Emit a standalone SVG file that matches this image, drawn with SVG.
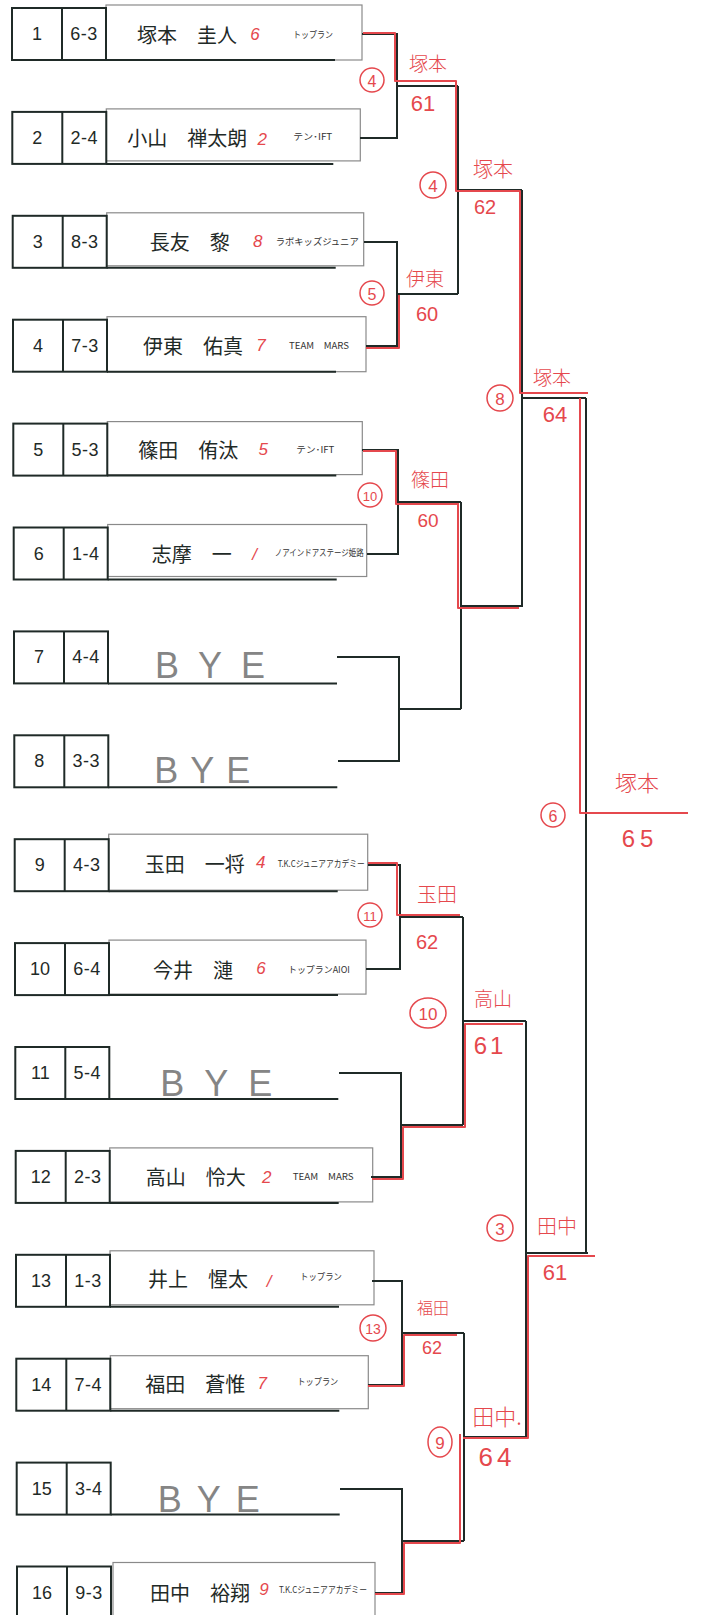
<svg xmlns="http://www.w3.org/2000/svg" width="701" height="1615" viewBox="0 0 701 1615">
<style>
.cell{fill:none;stroke:#1f2a27;stroke-width:2}
.lab{fill:#fff;stroke:#8a8a8a;stroke-width:1.2}
.bl{stroke:#1f2a27;stroke-width:2;fill:none}
.ln{stroke:#1f2a27;stroke-width:2;fill:none}
.rd{stroke:#e5484d;stroke-width:2;fill:none;stroke-linejoin:round}
.num{font-family:"Liberation Sans",Arial,sans-serif;font-size:18px;fill:#1f2a27;text-anchor:middle;dominant-baseline:central}
.sc{letter-spacing:0.5px}
.name{font-family:"Noto Sans CJK JP",sans-serif;font-size:20px;fill:#1f2a27;text-anchor:middle;dominant-baseline:central}
.club{font-family:"Noto Sans CJK JP",sans-serif;font-size:9px;fill:#333;dominant-baseline:central}
.seed{font-family:"Liberation Sans",sans-serif;font-size:17px;fill:#e5484d;font-style:italic;text-anchor:middle;dominant-baseline:central}
.bye{font-family:"Liberation Sans",sans-serif;font-size:36px;fill:#858585}
.rt{font-family:"Noto Sans CJK JP",sans-serif;font-weight:300;fill:#e5484d;text-anchor:middle;dominant-baseline:central}
.rn{font-family:"Liberation Sans",sans-serif;fill:#e5484d;text-anchor:middle;dominant-baseline:central}
.rc{fill:none;stroke:#e5484d;stroke-width:1.5}
</style>
<rect x="0" y="0" width="701" height="1615" fill="#fff"/>

<g id="p1" transform="translate(0,8)">
<rect class="lab" x="106" y="-3" width="256" height="55"/>
<rect class="cell" x="12" y="0" width="94" height="52"/><line class="bl" x1="62" y1="0" x2="62" y2="52"/><line class="bl" x1="106" y1="52" x2="335" y2="52"/>
<text class="num" x="37" y="26">1</text><text class="num sc" x="84" y="26">6-3</text>
<text class="name" x="187" y="26">塚本　圭人</text><text class="seed" x="255" y="26">6</text>
<text class="club" x="293" y="26" textLength="40" lengthAdjust="spacingAndGlyphs">トップラン</text>
</g>
<g id="p2" transform="translate(0.3,111.9)">
<rect class="lab" x="106" y="-3" width="254" height="52"/>
<rect class="cell" x="12" y="0" width="94" height="52"/><line class="bl" x1="62" y1="0" x2="62" y2="52"/><line class="bl" x1="106" y1="52" x2="333" y2="52"/>
<text class="num" x="37" y="26">2</text><text class="num sc" x="84" y="26">2-4</text>
<text class="name" x="187" y="26">小山　禅太朗</text><text class="seed" x="262" y="28">2</text>
<text class="club" x="293" y="25" textLength="39" lengthAdjust="spacingAndGlyphs">テン･IFT</text>
</g>
<g id="p3" transform="translate(0.7,215.8)">
<rect class="lab" x="106" y="-3" width="257" height="53"/>
<rect class="cell" x="12" y="0" width="94" height="52"/><line class="bl" x1="62" y1="0" x2="62" y2="52"/><line class="bl" x1="106" y1="52" x2="335" y2="52"/>
<text class="num" x="37" y="26">3</text><text class="num sc" x="84" y="26">8-3</text>
<text class="name" x="189" y="26">長友　黎</text><text class="seed" x="257" y="26">8</text>
<text class="club" x="275" y="26" textLength="83" lengthAdjust="spacingAndGlyphs">ラボキッズジュニア</text>
</g>
<g id="p4" transform="translate(1,319.7)">
<rect class="lab" x="106" y="-3" width="259" height="55"/>
<rect class="cell" x="12" y="0" width="94" height="52"/><line class="bl" x1="62" y1="0" x2="62" y2="52"/><line class="bl" x1="106" y1="52" x2="335" y2="52"/>
<text class="num" x="37" y="26">4</text><text class="num sc" x="84" y="26">7-3</text>
<text class="name" x="192" y="26">伊東　佑真</text><text class="seed" x="260" y="26">7</text>
<text class="club" x="288" y="26" textLength="60" lengthAdjust="spacingAndGlyphs">TEAM　MARS</text>
</g>
<g id="p5" transform="translate(1.3,423.6)">
<rect class="lab" x="106" y="-2" width="255" height="53"/>
<rect class="cell" x="12" y="0" width="94" height="52"/><line class="bl" x1="62" y1="0" x2="62" y2="52"/><line class="bl" x1="106" y1="52" x2="335" y2="52"/>
<text class="num" x="37" y="26">5</text><text class="num sc" x="84" y="26">5-3</text>
<text class="name" x="187" y="26">篠田　侑汰</text><text class="seed" x="262" y="26">5</text>
<text class="club" x="295" y="26" textLength="38" lengthAdjust="spacingAndGlyphs">テン･IFT</text>
</g>
<g id="p6" transform="translate(1.7,527.5)">
<rect class="lab" x="106" y="-3" width="259" height="52"/>
<rect class="cell" x="12" y="0" width="94" height="52"/><line class="bl" x1="62" y1="0" x2="62" y2="52"/><line class="bl" x1="106" y1="52" x2="335" y2="52"/>
<text class="num" x="37" y="26">6</text><text class="num sc" x="84" y="26">1-4</text>
<text class="name" x="190" y="26">志摩　一</text><text class="seed" x="253" y="27">/</text>
<text class="club" x="273" y="25" textLength="89" lengthAdjust="spacingAndGlyphs">ノアインドアステージ姫路</text>
</g>
<g id="p7" transform="translate(2,631.4)">
<rect class="cell" x="12" y="0" width="94" height="52"/><line class="bl" x1="62" y1="0" x2="62" y2="52"/><line class="bl" x1="106" y1="52" x2="335" y2="52"/>
<text class="num" x="37" y="26">7</text><text class="num sc" x="84" y="26">4-4</text>
<text class="bye" x="153" y="47" textLength="110" lengthAdjust="spacing">BYE</text>
</g>
<g id="p8" transform="translate(2.3,735.3)">
<rect class="cell" x="12" y="0" width="94" height="52"/><line class="bl" x1="62" y1="0" x2="62" y2="52"/><line class="bl" x1="106" y1="52" x2="335" y2="52"/>
<text class="num" x="37" y="26">8</text><text class="num sc" x="84" y="26">3-3</text>
<text class="bye" x="152" y="48" textLength="96" lengthAdjust="spacing">BYE</text>
</g>
<g id="p9" transform="translate(2.7,839.2)">
<rect class="lab" x="106" y="-5" width="259" height="56"/>
<rect class="cell" x="12" y="0" width="94" height="52"/><line class="bl" x1="62" y1="0" x2="62" y2="52"/><line class="bl" x1="106" y1="52" x2="335" y2="52"/>
<text class="num" x="37" y="26">9</text><text class="num sc" x="84" y="26">4-3</text>
<text class="name" x="192" y="24">玉田　一将</text><text class="seed" x="258" y="23">4</text>
<text class="club" x="275" y="24" textLength="87" lengthAdjust="spacingAndGlyphs">T.K.Cジュニアアカデミー</text>
</g>
<g id="p10" transform="translate(3,943.1)">
<rect class="lab" x="106" y="-3" width="257" height="54"/>
<rect class="cell" x="12" y="0" width="94" height="52"/><line class="bl" x1="62" y1="0" x2="62" y2="52"/><line class="bl" x1="106" y1="52" x2="335" y2="52"/>
<text class="num" x="37" y="26">10</text><text class="num sc" x="84" y="26">6-4</text>
<text class="name" x="190" y="26">今井　漣</text><text class="seed" x="258" y="25">6</text>
<text class="club" x="285" y="26" textLength="62" lengthAdjust="spacingAndGlyphs">トップランAIOI</text>
</g>
<g id="p11" transform="translate(3.3,1047)">
<rect class="cell" x="12" y="0" width="94" height="52"/><line class="bl" x1="62" y1="0" x2="62" y2="52"/><line class="bl" x1="106" y1="52" x2="335" y2="52"/>
<text class="num" x="37" y="26">11</text><text class="num sc" x="84" y="26">5-4</text>
<text class="bye" x="157" y="49" textLength="112" lengthAdjust="spacing">BYE</text>
</g>
<g id="p12" transform="translate(3.7,1150.9)">
<rect class="lab" x="106" y="-3" width="263" height="54"/>
<rect class="cell" x="12" y="0" width="94" height="52"/><line class="bl" x1="62" y1="0" x2="62" y2="52"/><line class="bl" x1="106" y1="52" x2="335" y2="52"/>
<text class="num" x="37" y="26">12</text><text class="num sc" x="84" y="26">2-3</text>
<text class="name" x="192" y="26">高山　怜大</text><text class="seed" x="263" y="27">2</text>
<text class="club" x="289" y="26" textLength="61" lengthAdjust="spacingAndGlyphs">TEAM　MARS</text>
</g>
<g id="p13" transform="translate(4,1254.8)">
<rect class="lab" x="106" y="-4" width="264" height="54"/>
<rect class="cell" x="12" y="0" width="94" height="52"/><line class="bl" x1="62" y1="0" x2="62" y2="52"/><line class="bl" x1="106" y1="52" x2="335" y2="52"/>
<text class="num" x="37" y="26">13</text><text class="num sc" x="84" y="26">1-3</text>
<text class="name" x="194" y="24">井上　惺太</text><text class="seed" x="265" y="27">/</text>
<text class="club" x="296" y="22" textLength="42" lengthAdjust="spacingAndGlyphs">トップラン</text>
</g>
<g id="p14" transform="translate(4.3,1358.7)">
<rect class="lab" x="106" y="-3" width="258" height="53"/>
<rect class="cell" x="12" y="0" width="94" height="52"/><line class="bl" x1="62" y1="0" x2="62" y2="52"/><line class="bl" x1="106" y1="52" x2="335" y2="52"/>
<text class="num" x="37" y="26">14</text><text class="num sc" x="84" y="26">7-4</text>
<text class="name" x="191" y="25">福田　蒼惟</text><text class="seed" x="258" y="25">7</text>
<text class="club" x="293" y="23" textLength="41" lengthAdjust="spacingAndGlyphs">トップラン</text>
</g>
<g id="p15" transform="translate(4.7,1462.6)">
<rect class="cell" x="12" y="0" width="94" height="52"/><line class="bl" x1="62" y1="0" x2="62" y2="52"/><line class="bl" x1="106" y1="52" x2="335" y2="52"/>
<text class="num" x="37" y="26">15</text><text class="num sc" x="84" y="26">3-4</text>
<text class="bye" x="153" y="49" textLength="102" lengthAdjust="spacing">BYE</text>
</g>
<g id="p16" transform="translate(5,1566.5)">
<rect class="lab" x="108" y="-4" width="262" height="56"/>
<rect class="cell" x="12" y="0" width="94" height="52"/><line class="bl" x1="62" y1="0" x2="62" y2="52"/><line class="bl" x1="106" y1="52" x2="335" y2="52"/>
<text class="num" x="37" y="26">16</text><text class="num sc" x="84" y="26">9-3</text>
<text class="name" x="195" y="26">田中　裕翔</text><text class="seed" x="259" y="23">9</text>
<text class="club" x="274" y="23" textLength="88" lengthAdjust="spacingAndGlyphs">T.K.Cジュニアアカデミー</text>
</g>

<g id="connectors">
<path class="ln" d="M362,34 H397 V138 H360 M397,86 H458"/>
<path class="ln" d="M364,242 H397 V346 H366 M397,294 H458"/>
<path class="ln" d="M362,450 H398 V554 H367 M398,502 H461"/>
<path class="ln" d="M337,657 H399 V761 H338 M399,709 H461"/>
<path class="ln" d="M368,865 H400 V969 H366 M400,917 H463"/>
<path class="ln" d="M339,1073 H401 V1177 H371 M401,1125 H463"/>
<path class="ln" d="M372,1281 H402 V1385 H368 M402,1333 H464"/>
<path class="ln" d="M340,1489 H402 V1593 H375 M402,1541 H464"/>
<path class="ln" d="M458,86 V294 M458,190 H522"/>
<path class="ln" d="M461,502 V709 M461,606 H523"/>
<path class="ln" d="M463,917 V1125 M463,1021 H526"/>
<path class="ln" d="M464,1333 V1541 M464,1437 H527"/>
<path class="ln" d="M522,190 V606 M522,398 H586"/>
<path class="ln" d="M526,1021 V1437 M526,1253 H588"/>
<path class="ln" d="M586,398 V1253 M586,813 H680"/>
<path class="rd" d="M363,33 H395 V81 H456 V191 H520 V393 H588 M580,398 V813 H688"/>
<path class="rd" d="M366,348 H399 V295"/>
<path class="rd" d="M363,451 H396 V504 H458 M458,503 V608 H519"/>
<path class="rd" d="M368,863 H397 V915 H460"/>
<path class="rd" d="M372,1179 H403 V1127 H465 V1024 H523"/>
<path class="rd" d="M368,1386 H404 V1335 H457"/>
<path class="rd" d="M375,1594 H404 V1543 H460 V1434 M463,1438 H528 V1256 H595"/>
</g>

<g id="annotations">
<circle class="rc" cx="372" cy="80" r="12"/><text class="rn" x="372" y="81" font-size="16">4</text>
<text class="rt" x="428" y="62" font-size="19">塚本</text>
<text class="rn" x="423" y="103" font-size="22">61</text>
<circle class="rc" cx="433" cy="185" r="13"/><text class="rn" x="433" y="186" font-size="17">4</text>
<text class="rt" x="493" y="168" font-size="20">塚本</text>
<text class="rn" x="485" y="207" font-size="20">62</text>
<circle class="rc" cx="372" cy="293" r="12"/><text class="rn" x="372" y="294" font-size="16">5</text>
<text class="rt" x="425" y="277" font-size="19">伊東</text>
<text class="rn" x="427" y="314" font-size="20">60</text>
<circle class="rc" cx="500" cy="398" r="13"/><text class="rn" x="500" y="399" font-size="17">8</text>
<text class="rt" x="552" y="376" font-size="19">塚本</text>
<text class="rn" x="555" y="414" font-size="22">64</text>
<circle class="rc" cx="370" cy="495" r="12"/><text class="rn" x="370" y="496" font-size="13">10</text>
<text class="rt" x="430" y="478" font-size="19">篠田</text>
<text class="rn" x="428" y="520" font-size="19">60</text>
<text class="rt" x="637" y="781" font-size="22">塚本</text>
<circle class="rc" cx="553" cy="815" r="12"/><text class="rn" x="553" y="816" font-size="16">6</text>
<text class="rn" x="640" y="838" font-size="24" letter-spacing="5">65</text>
<circle class="rc" cx="370" cy="915" r="12"/><text class="rn" x="370" y="916" font-size="13">11</text>
<text class="rt" x="437" y="893" font-size="20">玉田</text>
<text class="rn" x="427" y="942" font-size="20">62</text>
<ellipse class="rc" cx="428" cy="1013" rx="18" ry="15"/><text class="rn" x="428" y="1014" font-size="17">10</text>
<text class="rt" x="493" y="997" font-size="19">高山</text>
<text class="rn" x="490" y="1045" font-size="24" letter-spacing="3">61</text>
<circle class="rc" cx="500" cy="1228" r="13"/><text class="rn" x="500" y="1229" font-size="17">3</text>
<text class="rt" x="557" y="1225" font-size="20">田中</text>
<text class="rn" x="555" y="1272" font-size="22">61</text>
<circle class="rc" cx="373" cy="1328" r="13"/><text class="rn" x="373" y="1329" font-size="14">13</text>
<text class="rt" x="433" y="1307" font-size="16">福田</text>
<text class="rn" x="432" y="1348" font-size="18">62</text>
<ellipse class="rc" cx="440" cy="1442" rx="12" ry="15"/><text class="rn" x="440" y="1443" font-size="17">9</text>
<text class="rt" x="497" y="1415" font-size="22">田中.</text>
<text class="rn" x="497" y="1457" font-size="26" letter-spacing="4">64</text>
</g>
</svg>
